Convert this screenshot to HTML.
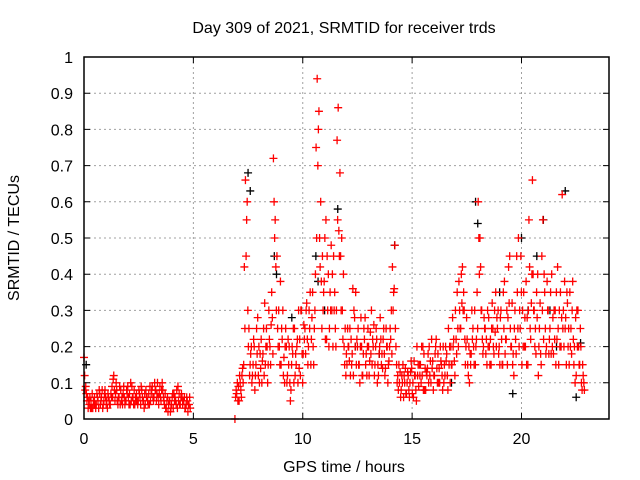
<!DOCTYPE html>
<html><head><meta charset="utf-8"><style>
body{margin:0;background:#fff}
svg{display:block;font-family:"Liberation Sans",sans-serif}
</style></head><body>
<svg id="c" width="640" height="480">
<text x="344" y="33" text-anchor="middle" font-size="16">Day 309 of 2021, SRMTID for receiver trds</text>
<text x="344" y="472" text-anchor="middle" font-size="16">GPS time / hours</text>
<text transform="translate(19,238) rotate(-90)" text-anchor="middle" font-size="16">SRMTID / TECUs</text>
<g id="grid"></g><g id="marks"></g><g id="axes"></g>
</svg>
<script>
const xTicks=[0,5,10,15,20];
const yTicks=[0,0.1,0.2,0.3,0.4,0.5,0.6,0.7,0.8,0.9,1];
const yTickLabels=["0","0.1","0.2","0.3","0.4","0.5","0.6","0.7","0.8","0.9","1"];
const seg1Start=0, seg2Start=6.9, step=0.08;
const red1A=[0.17,0.09,0.06,0.04,0.05,0.03,0.06,0.04,0.05,0.07,0.06,0.04,0.08,0.05,0.06,0.04,0.09,0.12,0.07,0.05,0.06,0.08,0.04,0.06,0.05,0.09,0.07,0.05,0.06,0.04,0.07,0.05,0.06,0.08,0.05,0.04,0.06,0.07,0.05,0.09,0.06,0.08,0.1,0.07,0.05,0.08,0.04,0.03,0.02,0.05,0.04,0.03,0.06,0.08,0.05,0.04,0.06,0.05,0.03,0.05,0.04];
const red1B=[0.12,0.07,0.03,0.06,0.03,0.05,0.04,0.07,0.03,0.04,0.08,0.05,0.06,0.03,0.05,0.07,0.06,0.08,0.1,0.04,0.09,0.05,0.07,0.04,0.08,0.06,0.04,0.09,0.04,0.06,0.05,0.08,0.04,0.06,0.03,0.08,0.05,0.04,0.07,0.06,0.1,0.05,0.06,0.09,0.08,0.06,0.07,0.05,0.04,0.02,0.06,0.07,0.05,0.03,0.07,0.06,0.04,0.06,0.04,0.02,0.06];
const red1C=[0.08,0.05,0.05,0.03,0.07,0.04,0.03,0.06,0.08,0.05,0.03,0.07,0.04,0.07,0.04,0.06,0.11,0.05,0.08,0.06,0.04,0.06,0.09,0.05,0.07,0.04,0.1,0.06,0.08,0.05,0.04,0.07,0.09,0.05,0.07,0.06,0.04,0.09,0.08,0.05,0.08,0.07,0.04,0.06,0.1,0.05,0.03,0.06,0.05,0.03,0.07,0.05,0.04,0.09,0.04,0.07,0.05,0.03,0.06,0.04,0.03];
const red2A=[0.0,0.07,0.09,0.1,0.12,0.15,0.66,0.6,0.25,0.18,
0.12,0.2,0.15,0.28,0.1,0.22,0.18,0.32,0.25,0.15,
0.2,0.35,0.72,0.55,0.45,0.3,0.38,0.22,0.17,0.25,
0.12,0.2,0.08,0.18,0.25,0.15,0.1,0.22,0.3,0.18,
0.25,0.32,0.2,0.35,0.28,0.15,0.4,0.94,0.85,0.6,
0.45,0.38,0.55,0.3,0.25,0.48,0.2,0.35,0.3,0.86,
0.68,0.5,0.4,0.25,0.15,0.2,0.12,0.18,0.3,0.35,
0.2,0.15,0.28,0.12,0.22,0.18,0.25,0.16,0.3,0.2,
0.15,0.22,0.12,0.28,0.18,0.25,0.14,0.2,0.16,0.22,
0.42,0.36,0.2,0.12,0.1,0.08,0.15,0.1,0.07,0.12,
0.1,0.14,0.06,0.12,0.2,0.09,0.15,0.12,0.18,0.08,
0.14,0.2,0.1,0.16,0.12,0.22,0.18,0.1,0.15,0.2,
0.12,0.18,0.25,0.1,0.15,0.22,0.3,0.35,0.38,0.25,
0.42,0.3,0.2,0.15,0.1,0.18,0.25,0.3,0.22,0.6,
0.5,0.3,0.2,0.25,0.15,0.28,0.22,0.32,0.18,0.35,
0.25,0.2,0.3,0.15,0.38,0.22,0.28,0.45,0.2,0.18,
0.3,0.45,0.5,0.25,0.15,0.35,0.2,0.28,0.55,0.22,
0.66,0.3,0.18,0.4,0.25,0.15,0.55,0.35,0.2,0.3,
0.25,0.4,0.18,0.3,0.22,0.15,0.35,0.62,0.2,0.28,
0.32,0.15,0.25,0.38,0.2,0.12,0.3,0.15,0.1,0.12];
const red2B=[0.06,0.1,0.05,0.08,0.14,0.42,0.45,0.3,0.12,0.2,
0.15,0.08,0.25,0.12,0.18,0.1,0.25,0.15,0.2,0.3,
0.15,0.28,0.6,0.42,0.25,0.2,0.15,0.3,0.1,0.2,
0.22,0.1,0.15,0.25,0.12,0.2,0.3,0.12,0.18,0.26,
0.18,0.22,0.3,0.15,0.35,0.25,0.75,0.7,0.5,0.38,
0.3,0.5,0.22,0.4,0.35,0.3,0.45,0.25,0.77,0.52,
0.45,0.3,0.2,0.12,0.25,0.16,0.22,0.36,0.28,0.15,
0.25,0.1,0.2,0.18,0.28,0.12,0.2,0.24,0.15,0.26,
0.2,0.1,0.18,0.22,0.14,0.18,0.25,0.1,0.2,0.3,
0.3,0.48,0.15,0.08,0.13,0.12,0.06,0.14,0.1,0.08,
0.13,0.07,0.16,0.08,0.12,0.15,0.1,0.2,0.08,0.13,
0.18,0.12,0.22,0.08,0.18,0.14,0.1,0.2,0.12,0.1,
0.2,0.12,0.15,0.2,0.28,0.16,0.22,0.25,0.3,0.4,
0.3,0.22,0.28,0.12,0.18,0.3,0.2,0.15,0.35,0.5,
0.42,0.22,0.28,0.18,0.3,0.2,0.15,0.25,0.3,0.2,
0.3,0.15,0.22,0.35,0.18,0.3,0.42,0.25,0.32,0.12,
0.22,0.35,0.2,0.45,0.3,0.2,0.38,0.15,0.42,0.32,
0.4,0.2,0.35,0.12,0.32,0.45,0.22,0.25,0.38,0.18,
0.35,0.2,0.3,0.15,0.42,0.3,0.2,0.25,0.38,0.15,
0.2,0.35,0.18,0.22,0.1,0.3,0.2,0.25,0.08,0.1];
const red2C=[0.08,0.05,0.12,0.06,0.1,0.25,0.55,0.2,0.15,0.1,
0.22,0.12,0.18,0.2,0.14,0.16,0.12,0.2,0.1,0.22,
0.26,0.18,0.5,0.3,0.2,0.15,0.25,0.12,0.2,0.1,
0.15,0.05,0.2,0.1,0.18,0.22,0.14,0.3,0.1,0.22,
0.3,0.15,0.25,0.22,0.2,0.3,0.5,0.8,0.42,0.25,
0.35,0.22,0.45,0.2,0.3,0.4,0.3,0.2,0.55,0.45,
0.3,0.22,0.15,0.18,0.2,0.25,0.15,0.12,0.2,0.22,
0.15,0.2,0.12,0.25,0.15,0.2,0.12,0.18,0.22,0.12,
0.25,0.15,0.2,0.15,0.22,0.12,0.2,0.15,0.25,0.18,
0.35,0.25,0.1,0.15,0.06,0.1,0.12,0.07,0.13,0.06,
0.16,0.1,0.12,0.05,0.15,0.12,0.2,0.08,0.14,0.12,
0.1,0.16,0.14,0.12,0.2,0.1,0.14,0.16,0.08,0.15,
0.16,0.08,0.2,0.15,0.2,0.12,0.18,0.2,0.25,0.32,
0.35,0.15,0.22,0.2,0.15,0.22,0.15,0.2,0.25,0.4,
0.3,0.18,0.25,0.22,0.2,0.15,0.25,0.2,0.24,0.28,
0.18,0.28,0.15,0.25,0.22,0.15,0.32,0.2,0.15,0.25,
0.18,0.25,0.3,0.35,0.2,0.28,0.15,0.3,0.25,0.4,
0.3,0.25,0.28,0.2,0.18,0.3,0.4,0.18,0.3,0.22,
0.18,0.28,0.22,0.35,0.25,0.2,0.28,0.3,0.25,0.35,
0.25,0.2,0.3,0.15,0.28,0.2,0.15,0.2,0.15,0.08];
const blackT=[0.1,7.5,7.6,8.7,8.8,9.5,10.6,10.7,11.0,11.6,12.4,13.5,14.2,16.8,17.9,18.0,19.0,19.6,20.0,20.3,20.7,21.0,21.3,21.6,22.0,22.5,22.7];
const blackV=[0.15,0.68,0.63,0.45,0.4,0.28,0.45,0.38,0.3,0.58,0.2,0.18,0.48,0.1,0.6,0.54,0.35,0.07,0.5,0.3,0.45,0.55,0.3,0.2,0.63,0.06,0.21];
const X0=84,X1=609,Y0=419,Y1=57,XMAX=24;
const xs=v=>X0+(X1-X0)*v/XMAX, ys=v=>Y0-(Y0-Y1)*v;
const NS="http://www.w3.org/2000/svg";
function mk(tag,attrs,parent){const e=document.createElementNS(NS,tag);for(const k in attrs)e.setAttribute(k,attrs[k]);parent.appendChild(e);return e;}
const grid=document.getElementById('grid'),axes=document.getElementById('axes'),marks=document.getElementById('marks');
xTicks.forEach((t,i)=>{const x=xs(t);
 if(t>0){const g=mk('line',{x1:x,x2:x,y1:Y0,y2:Y1,stroke:'#a0a0a0','stroke-dasharray':'2,3'},grid);
 
 }
 const tk=mk('path',{d:`M${x},${Y0}v-6M${x},${Y1}v6`,stroke:'#000'},axes);
 
 
 const l=mk('text',{x:x,y:Y0+25,'text-anchor':'middle','font-size':16},axes);l.textContent=String(t);
 
 });
yTicks.forEach((t,i)=>{const y=ys(t);
 if(t>0&&t<1){const g=mk('line',{x1:X0,x2:X1,y1:y,y2:y,stroke:'#a0a0a0','stroke-dasharray':'2,3'},grid);
 
 }
 const tk=mk('path',{d:`M${X0},${y}h6M${X1},${y}h-6`,stroke:'#000'},axes);
 
 
 const l=mk('text',{x:X0-11,y:y+6,'text-anchor':'end','font-size':16},axes);l.textContent=yTickLabels[i];
 
 });
const fr=mk('rect',{x:X0,y:Y1,width:X1-X0,height:Y0-Y1,fill:'none',stroke:'#000','stroke-width':1.5},axes);


function cross(t,v,col,name){const x=xs(t),y=ys(v);
 const p=mk('path',{d:`M${x-4},${y}h8M${x},${y-4}v8`,stroke:col,'stroke-width':1.3},marks);
 
 }
blackT.forEach((t,i)=>cross(t,blackV[i],'#000','black-point'));
red1A.forEach((v,i)=>cross(seg1Start+step*i,v,'#ff0000','red-point'));
red1B.forEach((v,i)=>cross(seg1Start+step*i+0.03,v,'#ff0000','red-point'));
red1C.forEach((v,i)=>cross(seg1Start+step*i+0.055,v,'#ff0000','red-point'));
red2A.forEach((v,i)=>cross(seg2Start+step*i,v,'#ff0000','red-point'));
red2B.forEach((v,i)=>cross(seg2Start+step*i+0.03,v,'#ff0000','red-point'));
red2C.forEach((v,i)=>cross(seg2Start+step*i+0.055,v,'#ff0000','red-point'));
</script>
</body></html>
